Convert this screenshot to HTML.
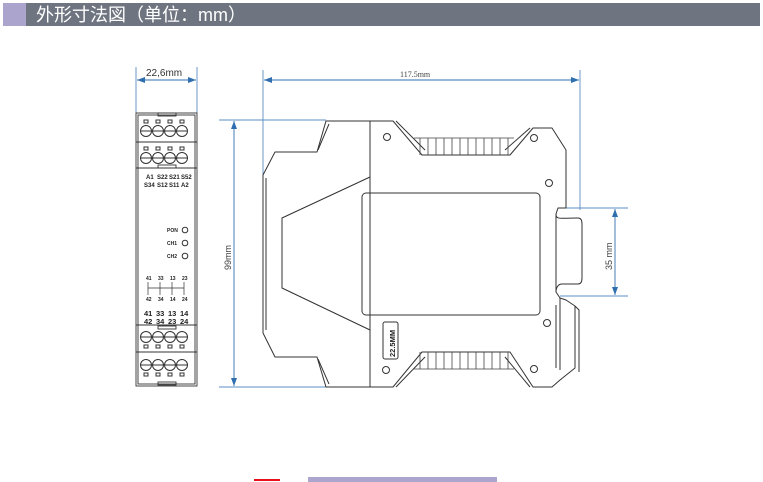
<!DOCTYPE html>
<html><head><meta charset="utf-8"><style>
html,body{margin:0;padding:0;background:#fff;width:763px;height:482px;overflow:hidden}
</style></head><body>
<svg width="763" height="482" viewBox="0 0 763 482" xmlns="http://www.w3.org/2000/svg" font-family="Liberation Sans, sans-serif">
<rect x="3" y="3" width="23" height="23" fill="#aba4cc"/>
<rect x="26" y="3" width="734" height="23" fill="#6f7580"/>
<text x="36" y="21" font-size="18" fill="#fff" font-family="Liberation Sans, 'Noto Sans CJK SC', sans-serif">外形寸法図（单位：mm）</text>

<defs>
<marker id="a" markerWidth="8" markerHeight="6" refX="8" refY="3" orient="auto-start-reverse" markerUnits="userSpaceOnUse"><path d="M0,0 L8,3 L0,6z" fill="#2f6fb0"/></marker>
</defs>
<g stroke="#5b8fc4" stroke-width="0.9" fill="none">
<line x1="136" y1="67" x2="136" y2="113"/><line x1="197" y1="67" x2="197" y2="113"/>
<line x1="137" y1="80" x2="196" y2="80" marker-start="url(#a)" marker-end="url(#a)" stroke="#2f6fb0"/>
<line x1="219" y1="120" x2="326" y2="120"/><line x1="219" y1="387" x2="326" y2="387"/>
<line x1="234" y1="121" x2="234" y2="386" marker-start="url(#a)" marker-end="url(#a)" stroke="#2f6fb0"/>
<line x1="263" y1="70" x2="263" y2="175"/><line x1="580" y1="70" x2="580" y2="210"/>
<line x1="264" y1="80" x2="579" y2="80" marker-start="url(#a)" marker-end="url(#a)" stroke="#2f6fb0"/>
<line x1="558" y1="208" x2="628" y2="208"/><line x1="560" y1="296" x2="628" y2="296"/>
<line x1="615" y1="209" x2="615" y2="295" marker-start="url(#a)" marker-end="url(#a)" stroke="#2f6fb0"/>
</g>
<text x="146" y="76" font-size="10" fill="#333">22,6mm</text>
<text x="400" y="77" font-size="8" fill="#444" font-family="Liberation Serif, serif">117.5mm</text>
<text transform="translate(231,270) rotate(-90)" font-size="9" fill="#444">99mm</text>
<text transform="translate(612,270) rotate(-90)" font-size="9" fill="#444">35 mm</text>

<!-- front view -->
<g stroke="#333" stroke-width="0.9" fill="none">
<rect x="136" y="113" width="61" height="273"/>
<rect x="138" y="115" width="57" height="269"/>
<line x1="136" y1="142" x2="197" y2="142"/><line x1="136" y1="168" x2="197" y2="168"/>
<line x1="136" y1="325" x2="197" y2="325"/><line x1="136" y1="352" x2="197" y2="352"/>
<rect x="158" y="113" width="18" height="3"/><rect x="158" y="382" width="18" height="3"/>
<rect x="158" y="165" width="18" height="3"/><rect x="158" y="326" width="18" height="3"/>
</g>
<g stroke="#333" stroke-width="1" fill="#fff">
<g id="t1">
<rect x="144" y="120" width="4" height="3"/><rect x="156" y="120" width="4" height="3"/><rect x="168" y="120" width="4" height="3"/><rect x="180" y="120" width="4" height="3"/>
<circle cx="146" cy="131" r="5.5"/><circle cx="158" cy="131" r="5.5"/><circle cx="170" cy="131" r="5.5"/><circle cx="182" cy="131" r="5.5"/>
<path d="M141 131h10M153 131h10M165 131h10M177 131h10"/>
</g>
<use href="#t1" y="27"/>
<g id="t2">
<circle cx="146" cy="337" r="5.5"/><circle cx="158" cy="337" r="5.5"/><circle cx="170" cy="337" r="5.5"/><circle cx="182" cy="337" r="5.5"/>
<path d="M141 337h10M153 337h10M165 337h10M177 337h10"/>
<rect x="144" y="345" width="4" height="3"/><rect x="156" y="345" width="4" height="3"/><rect x="168" y="345" width="4" height="3"/><rect x="180" y="345" width="4" height="3"/>
</g>
<use href="#t2" y="28"/>
<circle cx="185" cy="230" r="2.8"/><circle cx="185" cy="243" r="2.8"/><circle cx="185" cy="256" r="2.8"/>
</g>
<g font-size="6" font-weight="bold" fill="#222">
<text x="146" y="179">A1</text><text x="157" y="179">S22</text><text x="169" y="179">S21</text><text x="181" y="179">S52</text>
<text x="144" y="187">S34</text><text x="157" y="187">S12</text><text x="169" y="187">S11</text><text x="181" y="187">A2</text>
<text x="167" y="232" font-size="5">PON</text><text x="167" y="245" font-size="5">CH1</text><text x="167" y="258" font-size="5">CH2</text>
<text x="146" y="280" font-size="5">41</text><text x="158" y="280" font-size="5">33</text><text x="170" y="280" font-size="5">13</text><text x="182" y="280" font-size="5">23</text>
<text x="146" y="301" font-size="5">42</text><text x="158" y="301" font-size="5">34</text><text x="170" y="301" font-size="5">14</text><text x="182" y="301" font-size="5">24</text>
<text x="144" y="316" font-size="7.5">41</text><text x="156" y="316" font-size="7.5">33</text><text x="168" y="316" font-size="7.5">13</text><text x="180" y="316" font-size="7.5">14</text>
<text x="144" y="324" font-size="7.5">42</text><text x="156" y="324" font-size="7.5">34</text><text x="168" y="324" font-size="7.5">23</text><text x="180" y="324" font-size="7.5">24</text>
</g>
<path d="M148 282v13M160 282v13M172 282v13M184 282v13M148 288h36" stroke="#333" stroke-width="0.7" fill="none"/>

<!-- side view -->
<g stroke="#333" stroke-width="1" fill="none" stroke-linejoin="round">
<path d="M326 121 L393 121 L422 155 L510 155 L533 128 L552 128 L566 150 L566 208 L558 208 L556 214 L556 292 L560 298 L566 300 L575 306 L575 368 L560 380 L552 387 L533 387 L510 352 L422 352 L393 387 L326 387 L317 357 L275 357 L263 333 L263 175 L275 152 L317 152 Z"/>
<path d="M329 124 L318 150 M329 384 L318 359 M266 178 L266 330"/>
<line x1="370" y1="121" x2="370" y2="387"/>
<path d="M370 177 L282 218 L282 288 L370 330"/>
<rect x="362" y="193" width="178" height="122" rx="4"/>
<path d="M556 214 C556 220 560 218 578 218 Q582 218 582 224 L582 278 Q582 284 578 284 L562 284 C558 284 556 288 556 292"/>
<path d="M560 298 L560 370 M556 305 L556 368 M575 306 L579 310 L579 372"/>
<path d="M396 121 L425 150 M530 128 L505 150 M396 387 L425 357 M530 387 L505 357"/>
<circle cx="387" cy="137" r="3.5"/><circle cx="534" cy="138" r="3.5"/><circle cx="549" cy="183" r="3.5"/>
<circle cx="547" cy="323" r="3.5"/><circle cx="386" cy="370" r="3.5"/><circle cx="534" cy="369" r="3.5"/>
<rect x="383" y="322" width="15" height="37" rx="2"/>
</g>
<g stroke="#444" stroke-width="0.8">
<path d="M420 138v17M428 138v17M436 138v17M444 138v17M452 138v17M460 138v17M468 138v17M476 138v17M484 138v17M492 138v17M500 138v17M508 138v17M414 138h100"/>
<path d="M420 352v17M428 352v17M436 352v17M444 352v17M452 352v17M460 352v17M468 352v17M476 352v17M484 352v17M492 352v17M500 352v17M508 352v17M414 369h100"/>
</g>
<text transform="translate(395,357) rotate(-90)" font-size="7.5" font-weight="bold" fill="#222">22.5MM</text>

<rect x="254" y="479" width="26" height="2" fill="#e8101c"/>
<rect x="308" y="477" width="189" height="5" fill="#aca6cf"/>
</svg>
</body></html>
